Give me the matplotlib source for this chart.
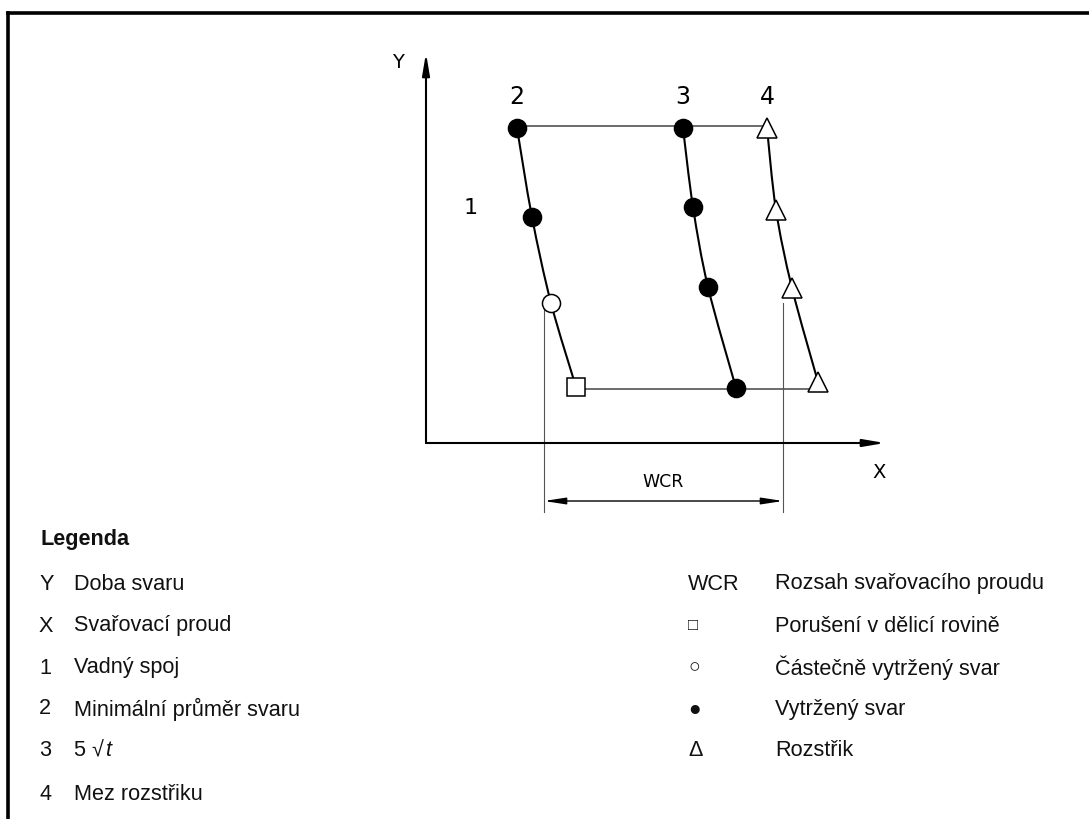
import matplotlib.pyplot as plt
from matplotlib.path import Path
from matplotlib.patches import PathPatch

# ---- diagram values (arbitrary units, origin at the axis crossing) ----
curve2_x = [9.1, 10.6, 12.5, 15.0]
curve2_y = [31.5, 22.6, 14.0, 5.6]
curve3_x = [25.7, 26.7, 28.2, 31.0]
curve3_y = [31.5, 23.6, 15.6, 5.5]
curve4_x = [34.1, 35.0, 36.6, 39.2]
curve4_y = [31.5, 23.3, 15.5, 6.1]
top_line_y = 31.7
bottom_line_y = 5.4
wcr_low, wcr_high = 11.8, 35.7
wcr_low_top, wcr_high_top = 13.6, 14.0
x_max, y_max = 45.9, 39.0

# ---- legend text ----
legend_left_keys = ["Y", "X", "1", "2", "3", "4"]
legend_left_text = ["Doba svaru", "Svařovací proud", "Vadný spoj",
                    "Minimální průměr svaru", "5 √", "Mez rozstřiku"]
legend_right_keys = ["WCR", "□", "○", "●", "Δ"]
legend_right_text = ["Rozsah svařovacího proudu", "Porušení v dělicí rovině",
                     "Částečně vytržený svar", "Vytržený svar", "Rozstřik"]
row_y = [583, 625, 667, 708, 750, 793]


def smooth_path(xs, ys):
    """Catmull-Rom style Bezier path through the given points."""
    pts = list(zip(xs, ys))
    verts = [pts[0]]
    codes = [Path.MOVETO]
    for i in range(len(pts) - 1):
        p0 = pts[i - 1] if i > 0 else pts[i]
        p1, p2 = pts[i], pts[i + 1]
        p3 = pts[i + 2] if i + 2 < len(pts) else pts[i + 1]
        c1 = (p1[0] + (p2[0] - p0[0]) / 6, p1[1] + (p2[1] - p0[1]) / 6)
        c2 = (p2[0] - (p3[0] - p1[0]) / 6, p2[1] - (p3[1] - p1[1]) / 6)
        verts += [c1, c2, p2]
        codes += [Path.CURVE4] * 3
    return Path(verts, codes)


W, H = 1089, 819
fig = plt.figure(figsize=(W / 100, H / 100), dpi=100)

# page overlay in pixel coordinates
page = fig.add_axes([0, 0, 1, 1])
page.set_xlim(0, W)
page.set_ylim(H, 0)
page.axis("off")
page.plot([7.5, W], [12.5, 12.5], color="black", lw=2.6, solid_capstyle="projecting")
page.plot([7.5, 7.5], [12.5, H], color="black", lw=2.6, solid_capstyle="projecting")

txt = dict(family=["Liberation Sans", "DejaVu Sans"], fontsize=15.6, va="center", color="#111111")
page.text(40, 539, "Legenda", fontweight="bold", **txt)
for k, t, y in zip(legend_left_keys, legend_left_text, row_y):
    page.text(39, y + 1, k, **txt)
    lab = page.text(74, y + 1, t, **txt)
    if k == "3":
        page.annotate("t", xy=(1, 0.5), xycoords=lab, xytext=(0.5, 0), textcoords="offset points",
                      style="italic", ha="left", **txt)
sym_size = {"□": 12, "○": 14, "●": 15, "Δ": 15.6}
for k, t, y in zip(legend_right_keys, legend_right_text, row_y):
    kw = dict(txt)
    kw["fontsize"] = sym_size.get(k, txt["fontsize"])
    page.text(688, y + 1, k, **kw)
    page.text(775, y + 1, t, **txt)

# diagram axes: origin at pixel (426, 443), 10 px per unit
ox, oy = 426, 443
ax = fig.add_axes([ox / W, (H - oy) / H, x_max * 10 / W, y_max * 10 / H])
ax.set_xlim(0, x_max)
ax.set_ylim(0, y_max)
ax.axis("off")
ax.patch.set_alpha(0)

arrow = dict(arrowstyle="-|>,head_length=1.3,head_width=0.22", color="black", lw=1.5,
             shrinkA=0, shrinkB=0, mutation_scale=10)
ax.annotate("", xy=(x_max, 0), xytext=(0, 0), arrowprops=arrow, annotation_clip=False)
ax.annotate("", xy=(0, y_max), xytext=(0, 0), arrowprops=arrow, annotation_clip=False)

iso = dict(family=["DejaVu Sans"], color="black", ha="center", va="center")
ax.text(-2.8, 38.0, "Y", fontsize=14, **iso)
ax.text(45.3, -3.0, "X", fontsize=14, **iso)
ax.text(curve2_x[0], 34.6, "2", fontsize=17, **iso)
ax.text(curve3_x[0], 34.6, "3", fontsize=17, **iso)
ax.text(curve4_x[0], 34.6, "4", fontsize=17, **iso)
ax.text(4.5, 23.5, "1", fontsize=16, **iso)
ax.text((wcr_low + wcr_high) / 2, -3.9, "WCR", fontsize=12.5, **iso)

# horizontal connecting lines
ax.plot([curve2_x[0], curve4_x[0]], [top_line_y, top_line_y], color="#444444", lw=1.1, zorder=2)
ax.plot([curve2_x[-1], curve4_x[-1]], [bottom_line_y, bottom_line_y], color="#444444", lw=1.1, zorder=2)

# WCR dimension
ax.plot([wcr_low, wcr_low], [wcr_low_top, -6.9], color="#555555", lw=0.8, clip_on=False)
ax.plot([wcr_high, wcr_high], [wcr_high_top, -6.9], color="#555555", lw=0.8, clip_on=False)
ax.annotate("", xy=(wcr_low, -5.8), xytext=(wcr_high, -5.8), annotation_clip=False,
            arrowprops=dict(arrowstyle="<|-|>,head_length=1.3,head_width=0.2", color="black",
                            lw=1.0, shrinkA=0, shrinkB=0, mutation_scale=10))

# curves
for xs, ys in [(curve2_x, curve2_y), (curve3_x, curve3_y), (curve4_x, curve4_y)]:
    ax.add_patch(PathPatch(smooth_path(xs, ys), facecolor="none", edgecolor="black", lw=1.5, zorder=3))

mk = dict(ls="none", markeredgecolor="black", markeredgewidth=1.1, zorder=4, clip_on=False)
ax.plot(curve2_x[:2], curve2_y[:2], marker="o", ms=13, markerfacecolor="black", **mk)
ax.plot(curve2_x[2:3], curve2_y[2:3], marker="o", ms=13, markerfacecolor="white", **mk)
ax.plot(curve2_x[3:], curve2_y[3:], marker="s", ms=13, markerfacecolor="white", **mk)
ax.plot(curve3_x, curve3_y, marker="o", ms=13, markerfacecolor="black", **mk)
ax.plot(curve4_x, curve4_y, marker="^", ms=14, markerfacecolor="white", **mk)

fig.savefig("out.png", dpi=100)
